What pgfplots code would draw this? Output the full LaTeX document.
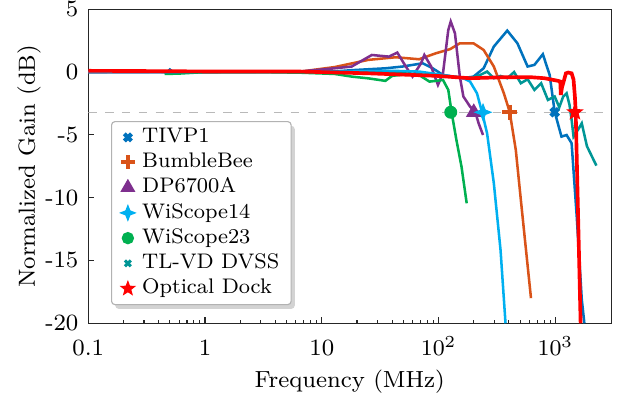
\documentclass[border=0pt]{standalone}
\usepackage{pgfplots}
\pgfplotsset{compat=1.18}
\usetikzlibrary{shadows}
\definecolor{cTIVP}{RGB}{0,114,189}
\definecolor{cBB}{RGB}{217,83,25}
\definecolor{cDP}{RGB}{126,47,142}
\definecolor{cW14}{RGB}{0,176,240}
\definecolor{cW23}{RGB}{0,176,80}
\definecolor{cTL}{RGB}{0,150,150}
\definecolor{cOD}{RGB}{255,0,0}
\pgfdeclareplotmark{star4}{%
  \pgfpathmoveto{\pgfqpoint{0pt}{\pgfplotmarksize}}%
  \pgfpathlineto{\pgfqpoint{0.28\pgfplotmarksize}{0.28\pgfplotmarksize}}%
  \pgfpathlineto{\pgfqpoint{\pgfplotmarksize}{0pt}}%
  \pgfpathlineto{\pgfqpoint{0.28\pgfplotmarksize}{-0.28\pgfplotmarksize}}%
  \pgfpathlineto{\pgfqpoint{0pt}{-\pgfplotmarksize}}%
  \pgfpathlineto{\pgfqpoint{-0.28\pgfplotmarksize}{-0.28\pgfplotmarksize}}%
  \pgfpathlineto{\pgfqpoint{-\pgfplotmarksize}{0pt}}%
  \pgfpathlineto{\pgfqpoint{-0.28\pgfplotmarksize}{0.28\pgfplotmarksize}}%
  \pgfpathclose\pgfusepathqfillstroke}
\pgfdeclareplotmark{star5}{%
  \pgfpathmoveto{\pgfpointpolar{90}{\pgfplotmarksize}}%
  \pgfpathlineto{\pgfpointpolar{126}{0.42\pgfplotmarksize}}%
  \pgfpathlineto{\pgfpointpolar{162}{\pgfplotmarksize}}%
  \pgfpathlineto{\pgfpointpolar{198}{0.42\pgfplotmarksize}}%
  \pgfpathlineto{\pgfpointpolar{234}{\pgfplotmarksize}}%
  \pgfpathlineto{\pgfpointpolar{270}{0.42\pgfplotmarksize}}%
  \pgfpathlineto{\pgfpointpolar{306}{\pgfplotmarksize}}%
  \pgfpathlineto{\pgfpointpolar{342}{0.42\pgfplotmarksize}}%
  \pgfpathlineto{\pgfpointpolar{18}{\pgfplotmarksize}}%
  \pgfpathlineto{\pgfpointpolar{54}{0.42\pgfplotmarksize}}%
  \pgfpathclose\pgfusepathqfillstroke}
\begin{document}
\begin{tikzpicture}
\begin{axis}[
  name=ax,
  scale only axis, width=186pt, height=111.7pt,
  xmode=log, xmin=0.1, xmax=3000, ymin=-20, ymax=5,
  xtick={0.1,1,10,100,1000}, xticklabels={0.1,1,10,$10^2$,$10^3$},
  ytick={-20,-15,-10,-5,0,5}, yticklabels={-20,-15,-10,-5,0,5},
  tick label style={font=\fontsize{8.3}{10}\selectfont},
  label style={font=\fontsize{8.3}{10}\selectfont},
  yticklabel style={inner ysep=0pt},
  xticklabel style={inner sep=0pt, text height=6.3pt, yshift=-5pt},
  xtick pos=left, ytick pos=left,
  major tick length=2.2pt, minor tick length=1.2pt,
  axis line style={black!85}, every tick/.style={black!85},
  xlabel={Frequency (MHz)}, ylabel={Normalized Gain (dB)},
  xlabel style={at={(axis description cs:0.5,0)}, anchor=north, inner sep=0pt, yshift=-16.3pt},
  ylabel style={at={(axis description cs:0,0.5)}, anchor=north, inner sep=0pt, yshift=25.4pt},
  clip=true,
  legend style={at={(0.0435,0.644)}, anchor=north west, font=\fontsize{7.5}{9}\selectfont,
    draw=black!30, fill=white, rounded corners=1.2pt,
    drop shadow={opacity=0.35, shadow xshift=1.3pt, shadow yshift=-1.5pt},
    nodes={inner ysep=0.3pt, inner xsep=1pt, text depth=0.15em},
    row sep=1.6pt, column sep=1.5pt, inner xsep=3.2pt, inner ysep=2pt},
  legend cell align=left,
]
\addplot[gray!55, dashed, forget plot] coordinates {(0.1,-3.2)(3000,-3.2)};
% TIVP1
\addplot[cTIVP, line width=0.9pt, forget plot] coordinates {
(0.1,0)(0.3,0.02)(0.48,0.05)(0.5,0.2)(0.53,0.02)(1,0.05)(3,0.05)(6.6,0.05)(12.9,0.05)(18,0.15)(35,0.3)(49,0.44)(73,0.7)(89,0.3)(109,-0.23)(163,-0.49)(199,-0.36)(243,0.3)(297,2.03)(387,3.3)(473,2.29)(578,0.44)(661,0.57)(781,1.42)(893,-0.23)(986,-3.17)(1127,-5.14)(1247,-5.01)(1377,-5.67)(1523,-11.5)(1682,-18.1)(1770,-20)};
% BumbleBee
\addplot[cBB, line width=0.9pt, forget plot] coordinates {
(0.1,0)(1,0)(6.6,0.04)(12.9,0.4)(25,0.97)(43,1.18)(68,1.02)(95,1.5)(125,1.82)(152,2.29)(199,2.29)(243,1.76)(297,0.44)(362,-1.69)(406,-3.17)(458,-6.2)(506,-10.18)(560,-14.16)(618,-18.0)};
% DP6700A
\addplot[cDP, line width=0.9pt, forget plot] coordinates {
(0.1,0)(1,0)(6.6,0.05)(12.9,0.3)(18,0.44)(26.8,1.36)(37.5,1.23)(44.3,1.55)(52.4,0.44)(59.8,-0.36)(70.7,0.7)(75.5,1.36)(86.3,0.44)(98.7,-1.02)(109,-0.1)(121,3.35)(127,4.02)(138,3.09)(152,-0.36)(163,-1.95)(186,-2.75)(206,-3.17)(220,-4.08)(240,-5.01)};
% WiScope14
\addplot[cW14, line width=0.9pt, forget plot] coordinates {
(0.1,0)(1,0)(10,0)(40,0.1)(68,0.04)(109,-0.23)(163,-0.49)(186,-0.76)(213,-1.69)(235,-3.17)(260,-4.87)(297,-8.85)(339,-14.16)(374,-20)};
% WiScope23
\addplot[cW23, line width=0.9pt, forget plot] coordinates {
(0.45,-0.15)(0.6,-0.12)(1,0)(3,0)(6.6,-0.05)(12.9,-0.15)(18,-0.36)(25,-0.5)(35,-0.7)(40,-0.3)(50,-0.2)(68,-0.23)(83.5,-0.76)(109,-0.63)(121,-1.42)(129,-3.17)(142,-5.4)(157,-7.53)(174,-10.45)};
% TL-VD DVSS
\addplot[cTL, line width=0.9pt, forget plot] coordinates {
(0.45,-0.05)(1,0)(10,0)(50,-0.1)(109,-0.3)(186,-0.49)(227,-0.23)(260,0.04)(297,-0.49)(339,-0.31)(387,-0.49)(443,0)(506,-0.89)(578,-0.57)(661,-1.42)(755,-0.89)(863,-2.22)(986,-1.95)(1080,-2.8)(1166,-1.95)(1247,-1.69)(1320,-2.6)(1377,-3.8)(1430,-5.14)(1560,-4.6)(1682,-4.08)(1862,-5.9)(2057,-6.73)(2244,-7.45)};
% Optical Dock
\addplot[cOD, line width=1.3pt, forget plot] coordinates {
(0.1,0.1)(0.3,0.08)(1,0.05)(6.6,0.04)(25,-0.1)(95,-0.3)(186,-0.49)(362,-0.41)(618,-0.41)(807,-0.49)(1055,-0.7)(1100,-0.75)(1113,-1.82)(1140,-1.2)(1166,-0.89)(1230,-0.1)(1289,-0.04)(1377,-0.1)(1430,-0.6)(1470,-2.0)(1492,-3.17)(1553,-10.18)(1644,-20)};
% markers
\addplot[cTL, only marks, mark=x, mark size=1.6pt, mark options={line width=1.1pt}, forget plot] coordinates {(1000,-3.2)};
\addplot[cTIVP, only marks, mark=x, mark size=1.9pt, mark options={line width=1.5pt}, forget plot] coordinates {(986,-3.2)};
\addplot[cBB, only marks, mark=+, mark size=2.6pt, mark options={line width=1.5pt}, forget plot] coordinates {(406,-3.2)};
\addplot[cDP, only marks, mark=triangle*, mark size=2.8pt, forget plot] coordinates {(200,-3.2)};
\addplot[cW14, only marks, mark=star4, mark size=2.8pt, forget plot] coordinates {(240,-3.2)};
\addplot[cW23, only marks, mark=*, mark size=2.1pt, forget plot] coordinates {(127,-3.2)};
\addplot[cOD, only marks, mark=star5, mark size=2.7pt, forget plot] coordinates {(1470,-3.2)};
% legend
\addlegendimage{cTIVP, only marks, mark=x, mark size=1.8pt, mark options={line width=1.5pt}}
\addlegendentry{TIVP1}
\addlegendimage{cBB, only marks, mark=+, mark size=2.5pt, mark options={line width=1.5pt}}
\addlegendentry{BumbleBee}
\addlegendimage{cDP, only marks, mark=triangle*, mark size=2.7pt}
\addlegendentry{DP6700A}
\addlegendimage{cW14, only marks, mark=star4, mark size=2.6pt}
\addlegendentry{WiScope14}
\addlegendimage{cW23, only marks, mark=*, mark size=2pt}
\addlegendentry{WiScope23}
\addlegendimage{cTL, only marks, mark=x, mark size=1.5pt, mark options={line width=1.1pt}}
\addlegendentry{TL-VD DVSS}
\addlegendimage{cOD, only marks, mark=star5, mark size=2.5pt}
\addlegendentry{Optical Dock}
\end{axis}
\pgfresetboundingbox
\useasboundingbox ([shift={(-31.4pt,-26.1pt)}]ax.south west) rectangle ([shift={(2.8pt,3.3pt)}]ax.north east);
\end{tikzpicture}
\end{document}
